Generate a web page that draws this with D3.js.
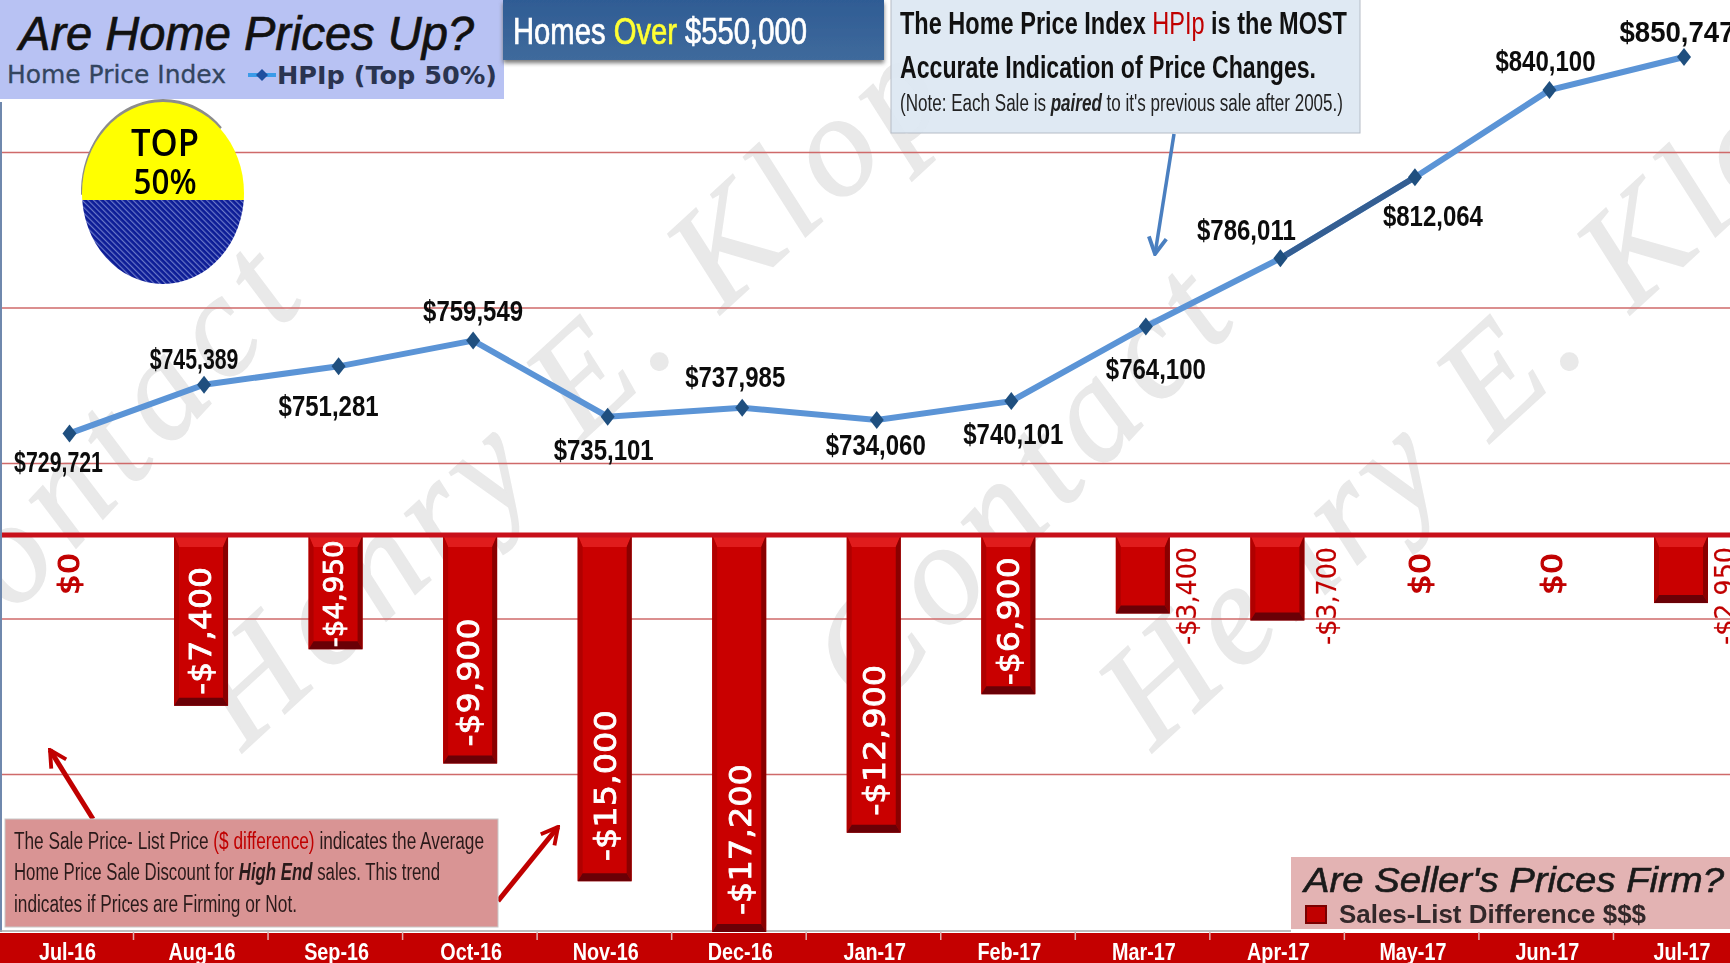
<!DOCTYPE html>
<html><head><meta charset="utf-8">
<style>html,body{margin:0;padding:0;background:#fff;overflow:hidden}svg{display:block;filter:blur(0.4px)}</style>
<script src="https://cdn.jsdelivr.net/npm/d3@7"></script></head>
<body><svg id="c" width="1730" height="963"></svg>
<script>
const months=["Jul-16","Aug-16","Sep-16","Oct-16","Nov-16","Dec-16","Jan-17","Feb-17","Mar-17","Apr-17","May-17","Jun-17","Jul-17"];
const hpip=[729721,745389,751281,759549,735101,737985,734060,740101,764100,786011,812064,840100,850747];
const saleListDiff=[0,-7400,-4950,-9900,-15000,-17200,-12900,-6900,-3400,-3700,0,0,-2950];
const gridValues=[820000,770000,720000,670000,620000];
const lineLabelDx=[-11,-10,-10,0,-4,-7,-1,2,10,-34,18,-4,-7];
const lineLabelDy=[28,-26,39,-30,33,-31,25,32,42,-29,38,-30,-25];
const lineLabelSx=[0.71,0.71,0.8,0.8,0.8,0.8,0.8,0.8,0.8,0.8,0.8,0.8,0.92];
const barLabelDx=[3,-1,-2,-2,0,1,0,0,44,50,9,6,44];
const barLabelLen=[42,128,107,128,151,151,151,128,98,98,42,42,98];
const barLabelGap=[0,11,2,17,20,17,17,9,0,0,0,0,0];

const svg=d3.select("#c");
const narrow="'Liberation Sans Narrow','Liberation Sans',sans-serif";
const arial="'Liberation Sans',Arial,sans-serif";
const wide="'DejaVu Sans',Verdana,sans-serif";

const xStep=d3.scalePoint().domain(months).range([69.5,1684]);
const xBar=m=>xStep(m)-3;
const yLine=d3.scaleLinear().domain([620000,850747]).range([774.6,57]);
const yBar=d3.scaleLinear().domain([0,-17200]).range([535,932]);
const barW=54;

const defs=svg.append("defs");
const hatch=defs.append("pattern").attr("id","hatch").attr("width",4).attr("height",4).attr("patternUnits","userSpaceOnUse").attr("patternTransform","rotate(-45)");
hatch.append("rect").attr("width",4).attr("height",4).attr("fill","#0c1c96");
hatch.append("rect").attr("width",1.2).attr("height",4).attr("fill","#6a78c8");
const bg=defs.append("linearGradient").attr("id","blueBox").attr("x1",0).attr("x2",0).attr("y1",0).attr("y2",1);
bg.append("stop").attr("offset",0).attr("stop-color","#2f5c94");bg.append("stop").attr("offset",1).attr("stop-color","#3f6a9c");
const tsh=defs.append("filter").attr("id","boxshadow").attr("x","-5%").attr("y","-10%").attr("width","110%").attr("height","130%");
tsh.append("feDropShadow").attr("dx",0).attr("dy",3).attr("stdDeviation",2).attr("flood-color","#777");
[["arB","#4a7fc0"],["arR","#c00000"]].forEach(([id,c])=>{
  defs.append("marker").attr("id",id).attr("viewBox","0 0 20 20").attr("refX",18).attr("refY",10).attr("markerWidth",22).attr("markerHeight",22).attr("markerUnits","userSpaceOnUse").attr("orient","auto")
   .append("path").attr("d","M3,2 L18,10 L3,18").attr("fill","none").attr("stroke",c).attr("stroke-width",3.5);
});

// watermark
const wm=svg.append("g").attr("fill","#e9e9e9").attr("stroke","#e9e9e9").attr("stroke-width",1.5).attr("font-family","'Liberation Serif',serif").attr("font-style","italic").attr("font-size",145);
[[-61,695,"Contact",539,-47],[243,752,"Henry E. Klop",960,-42.5],[871,717,"Contact",539,-47],[1153,752,"Henry E. Klop",960,-42.5]].forEach(([a,b,t,l,r])=>{
  wm.append("text").attr("transform",`translate(${a},${b}) rotate(${r})`).attr("textLength",l).text(t);
});

// gridlines
svg.append("g").selectAll("line").data(gridValues).join("line")
 .attr("x1",2).attr("x2",1730).attr("y1",d=>yLine(d)).attr("y2",d=>yLine(d))
 .attr("stroke","#cf6a6a").attr("stroke-width",1.5);

// left axis
svg.append("line").attr("x1",1).attr("x2",1).attr("y1",102).attr("y2",932).attr("stroke","#6f88ad").attr("stroke-width",2);
svg.append("line").attr("x1",0).attr("x2",1291).attr("y1",931).attr("y2",931).attr("stroke","#a8a8a8").attr("stroke-width",1.5);

// bars with bevel
const bars=svg.append("g").selectAll("g").data(months.map((m,i)=>({m,v:saleListDiff[i]})).filter(d=>d.v<0)).join("g");
const bL=d=>xBar(d.m)-barW/2, bR=d=>xBar(d.m)+barW/2, bT=yBar(0), bB=d=>yBar(d.v);
const eS=5, eT=12, eB=8;
bars.append("rect").attr("x",bL).attr("width",barW).attr("y",bT).attr("height",d=>bB(d)-bT).attr("fill","#c90000");
bars.append("path").attr("fill","#e01c1c").attr("d",d=>`M${bL(d)},${bT}L${bR(d)},${bT}L${bR(d)-eS},${bT+eT}L${bL(d)+eS},${bT+eT}Z`);
bars.append("path").attr("fill","#8a0000").attr("d",d=>`M${bR(d)},${bT}L${bR(d)},${bB(d)}L${bR(d)-eS},${bB(d)-eB}L${bR(d)-eS},${bT+eT}Z`);
bars.append("path").attr("fill","#b00000").attr("d",d=>`M${bL(d)},${bT}L${bL(d)},${bB(d)}L${bL(d)+eS},${bB(d)-eB}L${bL(d)+eS},${bT+eT}Z`);
bars.append("path").attr("fill","#6a0006").attr("d",d=>`M${bL(d)},${bB(d)}L${bR(d)},${bB(d)}L${bR(d)-eS},${bB(d)-eB}L${bL(d)+eS},${bB(d)-eB}Z`);

// zero line
svg.append("line").attr("x1",2).attr("x2",1730).attr("y1",yBar(0)).attr("y2",yBar(0)).attr("stroke","#c8101a").attr("stroke-width",5);

// bar labels
const fmt=v=>v===0?"$0":"-$"+d3.format(",")(-v);
saleListDiff.forEach((v,i)=>{
  const m=months[i],big=v<-4000,zero=v===0,len=barLabelLen[i];
  const cx=xBar(m)+barLabelDx[i];
  const cy=zero?574:big?yBar(v)-barLabelGap[i]-len/2:596;
  const size=zero?28:big?(v===-4950?27:31):26;
  svg.append("text").attr("transform",`translate(${cx},${cy}) rotate(-90)`).attr("text-anchor","middle").attr("dominant-baseline","central")
   .attr("font-family",wide).attr("font-size",size)
   .attr("textLength",len).attr("lengthAdjust","spacingAndGlyphs")
   .attr("fill",big?"#fff":"#c00000").attr("stroke",big?"#fff":"#c00000").attr("stroke-width",zero?1:big?0.8:0.2).text(fmt(v));
});

// line
const line=d3.line().x((d,i)=>xStep(months[i])).y(d=>yLine(d));
svg.append("path").datum(hpip).attr("d",line).attr("fill","none").attr("stroke","#5b94d6").attr("stroke-width",6);
svg.append("path").datum(hpip.slice(9,11)).attr("d",d3.line().x((d,i)=>xStep(months[9+i])).y(d=>yLine(d))).attr("fill","none").attr("stroke","#345e92").attr("stroke-width",6);
svg.append("g").selectAll("path").data(hpip).join("path")
 .attr("transform",(d,i)=>`translate(${xStep(months[i])},${yLine(d)})`)
 .attr("d","M0,-9L7,0L0,9L-7,0Z").attr("fill","#1f4f7f");
svg.append("g").selectAll("text").data(hpip).join("text")
 .attr("transform",(d,i)=>`translate(${xStep(months[i])+lineLabelDx[i]},${yLine(d)+lineLabelDy[i]}) scale(${lineLabelSx[i]},1)`)
 .attr("text-anchor","middle").attr("dominant-baseline","central")
 .attr("font-family",narrow).attr("font-weight","bold").attr("font-size",30).attr("fill","#0c0c0c")
 .text(d=>"$"+d3.format(",")(d));

// bottom band
svg.append("rect").attr("x",0).attr("y",933).attr("width",1730).attr("height",30).attr("fill","#c40000");
svg.append("g").selectAll("line").data(months).join("line")
 .attr("x1",d=>xStep(d)+64).attr("x2",d=>xStep(d)+64).attr("y1",932).attr("y2",940).attr("stroke","#ddb0b0").attr("stroke-width",1.5);
svg.append("g").selectAll("text").data(months).join("text")
 .attr("transform",d=>`translate(${xStep(d)-2},952) scale(0.86,1)`).attr("text-anchor","middle").attr("dominant-baseline","central")
 .attr("font-family",narrow).attr("font-weight","bold").attr("font-size",23).attr("fill","#fff").text(d=>d);

// title box
svg.append("rect").attr("x",0).attr("y",0).attr("width",504).attr("height",99).attr("fill","#b8c2f3");
svg.append("text").attr("x",19).attr("y",50).attr("font-family",arial).attr("font-style","italic").attr("font-size",48).attr("fill","#111").attr("stroke","#111").attr("stroke-width",0.7).attr("textLength",455).attr("lengthAdjust","spacingAndGlyphs").text("Are Home Prices Up?");
svg.append("text").attr("x",7).attr("y",83).attr("font-family",wide).attr("font-size",24).attr("fill","#33455f").attr("stroke","#33455f").attr("stroke-width",0.3).attr("textLength",219).attr("lengthAdjust","spacingAndGlyphs").text("Home Price Index");
svg.append("line").attr("x1",248).attr("x2",276).attr("y1",75).attr("y2",75).attr("stroke","#3b9be8").attr("stroke-width",4);
svg.append("path").attr("transform","translate(262,75)").attr("d","M0,-6L6,0L0,6L-6,0Z").attr("fill","#1f4f9f");
svg.append("text").attr("x",277).attr("y",84).attr("font-family",wide).attr("font-weight","bold").attr("font-size",25).attr("fill","#2a3450").attr("textLength",220).attr("lengthAdjust","spacingAndGlyphs").text("HPIp (Top 50%)");

// TOP 50% ellipse
const cx0=163,cy0=193,rx0=81,ry0=91,split=200;
svg.append("path").attr("d",d3.arc().innerRadius(0).outerRadius(1).startAngle(-1.6).endAngle(0.8)()).attr("transform",`translate(${cx0},${cy0-1}) scale(${rx0+1},${ry0+2})`).attr("fill","#8c8c8c");
defs.append("clipPath").attr("id","clipTop").append("rect").attr("x",0).attr("y",90).attr("width",300).attr("height",split-90);
defs.append("clipPath").attr("id","clipBot").append("rect").attr("x",0).attr("y",split).attr("width",300).attr("height",120);
svg.append("ellipse").attr("cx",cx0).attr("cy",cy0).attr("rx",rx0).attr("ry",ry0).attr("fill","#ffff00").attr("clip-path","url(#clipTop)");
svg.append("ellipse").attr("cx",cx0).attr("cy",cy0).attr("rx",rx0).attr("ry",ry0).attr("fill","url(#hatch)").attr("clip-path","url(#clipBot)");
svg.append("text").attr("x",165).attr("y",156).attr("text-anchor","middle").attr("font-family","'Open Sans',sans-serif").attr("font-weight","600").attr("font-size",37).attr("fill","#000").attr("textLength",68).attr("lengthAdjust","spacingAndGlyphs").text("TOP");
svg.append("text").attr("x",165).attr("y",194).attr("text-anchor","middle").attr("font-family","'Open Sans',sans-serif").attr("font-weight","600").attr("font-size",35).attr("fill","#000").attr("textLength",63).attr("lengthAdjust","spacingAndGlyphs").text("50%");

// blue box
svg.append("rect").attr("x",503).attr("y",0).attr("width",381).attr("height",60).attr("fill","url(#blueBox)").attr("filter","url(#boxshadow)");
const hb=svg.append("text").attr("x",513).attr("y",44).attr("font-family",narrow).attr("font-size",36).attr("fill","#fff").attr("stroke-width",0.7).attr("stroke","#fff").attr("textLength",294).attr("lengthAdjust","spacingAndGlyphs");
hb.append("tspan").text("Homes ");hb.append("tspan").attr("fill","#ffff33").attr("stroke","#ffff33").text("Over");hb.append("tspan").text(" $550,000");

// note box
svg.append("rect").attr("x",891).attr("y",-2).attr("width",469).attr("height",135).attr("fill","#dde7f2").attr("fill-opacity",0.93).attr("stroke","#b5bcc6");
const n1=svg.append("text").attr("x",900).attr("y",34).attr("font-family",narrow).attr("font-weight","bold").attr("font-size",31).attr("fill","#111").attr("textLength",447).attr("lengthAdjust","spacingAndGlyphs");
n1.append("tspan").text("The Home Price Index ");n1.append("tspan").attr("fill","#c00000").attr("font-weight","normal").text("HPIp");n1.append("tspan").text(" is the MOST");
svg.append("text").attr("x",900).attr("y",78).attr("font-family",narrow).attr("font-weight","bold").attr("font-size",31).attr("fill","#111").attr("textLength",416).attr("lengthAdjust","spacingAndGlyphs").text("Accurate Indication of Price Changes.");
const n3=svg.append("text").attr("x",900).attr("y",111).attr("font-family",narrow).attr("font-size",23).attr("fill","#222").attr("textLength",443).attr("lengthAdjust","spacingAndGlyphs");
n3.append("tspan").text("(Note: Each Sale is ");n3.append("tspan").attr("font-weight","bold").attr("font-style","italic").text("paired");n3.append("tspan").text(" to it's previous sale after 2005.)");

// arrows
svg.append("line").attr("x1",1174).attr("y1",134).attr("x2",1155).attr("y2",254).attr("stroke","#4a7fc0").attr("stroke-width",3.5).attr("marker-end","url(#arB)");
svg.append("line").attr("x1",93).attr("y1",819).attr("x2",50).attr("y2",750).attr("stroke","#c00000").attr("stroke-width",5).attr("marker-end","url(#arR)");
svg.append("line").attr("x1",498).attr("y1",901).attr("x2",558).attr("y2",827).attr("stroke","#c00000").attr("stroke-width",5).attr("marker-end","url(#arR)");

// pink note
svg.append("rect").attr("x",5).attr("y",819).attr("width",493).attr("height",108).attr("fill","#d99494").attr("stroke","#c8c8c8");
const p1=svg.append("text").attr("x",14).attr("y",849).attr("font-family",narrow).attr("font-size",23).attr("fill","#2a1a1a").attr("textLength",470).attr("lengthAdjust","spacingAndGlyphs");
p1.append("tspan").text("The  Sale Price- List Price ");p1.append("tspan").attr("fill","#c00000").text("($ difference)");p1.append("tspan").text(" indicates the Average");
const p2=svg.append("text").attr("x",14).attr("y",880).attr("font-family",narrow).attr("font-size",23).attr("fill","#2a1a1a").attr("textLength",426).attr("lengthAdjust","spacingAndGlyphs");
p2.append("tspan").text("Home Price Sale Discount for ");p2.append("tspan").attr("font-weight","bold").attr("font-style","italic").text("High End");p2.append("tspan").text(" sales. This trend");
svg.append("text").attr("x",14).attr("y",912).attr("font-family",narrow).attr("font-size",23).attr("fill","#2a1a1a").attr("textLength",283).attr("lengthAdjust","spacingAndGlyphs").text("indicates if Prices are Firming or Not.");

// legend lower right
svg.append("rect").attr("x",1291).attr("y",857).attr("width",439).attr("height",72).attr("fill","#e3b3b3");
svg.append("text").attr("x",1304).attr("y",892).attr("font-family",arial).attr("font-style","italic").attr("font-size",35).attr("fill","#1a1a1a").attr("stroke","#1a1a1a").attr("stroke-width",0.6).attr("textLength",420).attr("lengthAdjust","spacingAndGlyphs").text("Are Seller's Prices Firm?");
svg.append("rect").attr("x",1306).attr("y",906).attr("width",20).attr("height",17).attr("fill","#c00000").attr("stroke","#7a0000").attr("stroke-width",2);
svg.append("text").attr("x",1339).attr("y",923).attr("font-family",arial).attr("font-weight","bold").attr("font-size",25).attr("fill","#33282a").attr("textLength",307).attr("lengthAdjust","spacingAndGlyphs").text("Sales-List Difference $$$");
</script></body></html>
